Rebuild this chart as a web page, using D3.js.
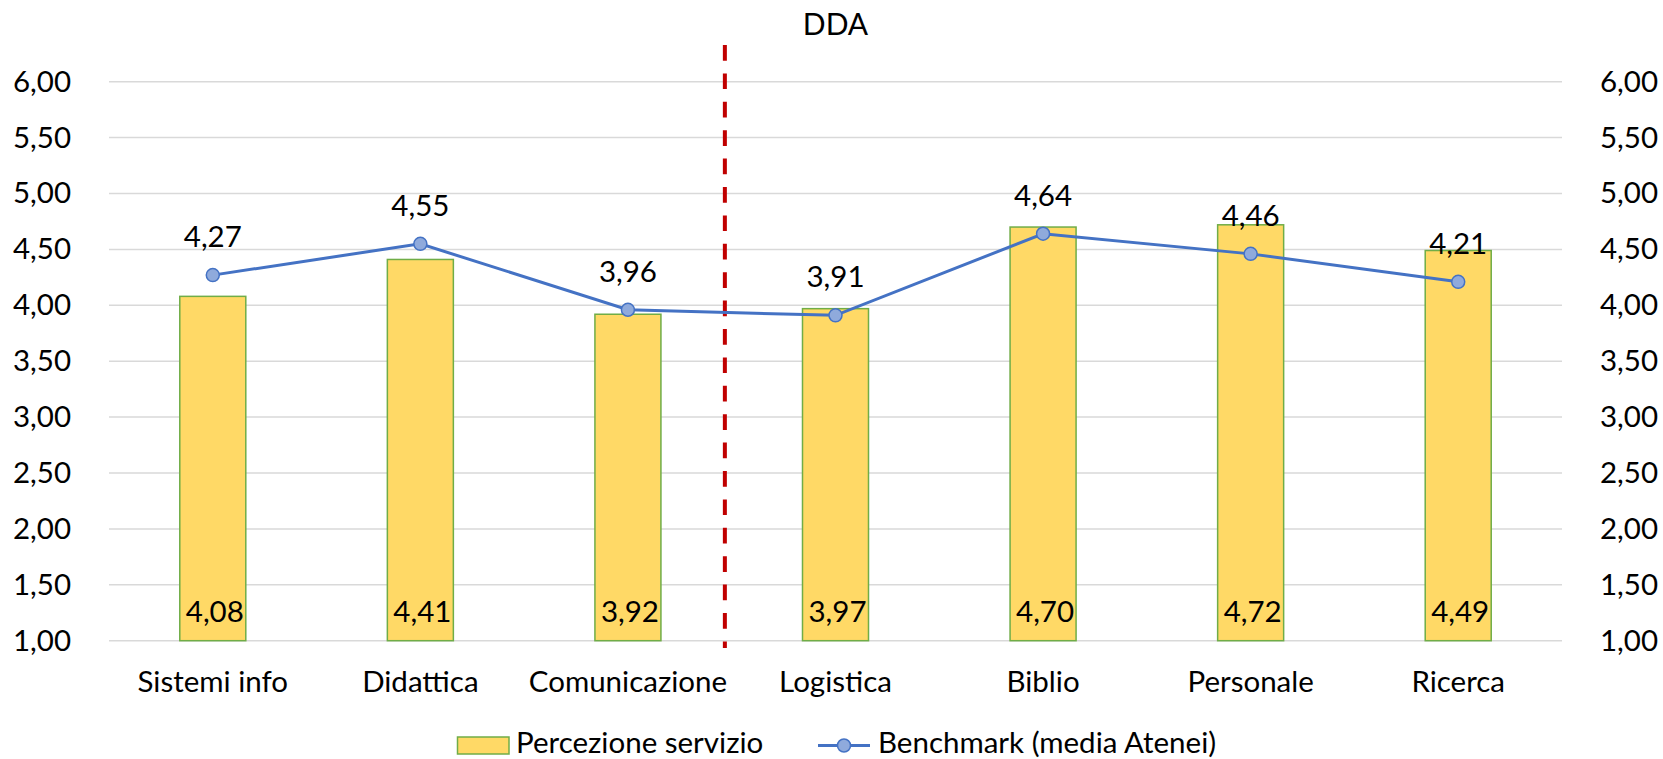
<!DOCTYPE html>
<html>
<head>
<meta charset="utf-8">
<script src="https://cdn.jsdelivr.net/npm/d3@7"></script>
<style>
  html, body { margin: 0; padding: 0; background: #ffffff; }
  svg { display: block; }
  text { font-family: Lato, "Open Sans", sans-serif; fill: #000000; }
</style>
</head>
<body>
<svg id="chart" width="1663" height="759"></svg>
<script>
const title = "DDA";
const categories = ["Sistemi info", "Didattica", "Comunicazione", "Logistica", "Biblio", "Personale", "Ricerca"];
const perceptionValues = [4.08, 4.41, 3.92, 3.97, 4.70, 4.72, 4.49];
const benchmarkValues = [4.27, 4.55, 3.96, 3.91, 4.64, 4.46, 4.21];
const yTicks = [1.00, 1.50, 2.00, 2.50, 3.00, 3.50, 4.00, 4.50, 5.00, 5.50, 6.00];
const seriesNames = ["Percezione servizio", "Benchmark (media Atenei)"];
const dividerPosition = 2.967; // in category units

const W = 1663, H = 759;
const plot = { left: 109, right: 1562, top: 81.7, bottom: 640.7 };
const fontSize = 29.5;

const svg = d3.select("#chart");
const fmt = v => d3.format(".2f")(v).replace(".", ",");

const x = d3.scaleBand().domain(categories).range([plot.left, plot.right]).paddingInner(0).paddingOuter(0);
const y = d3.scaleLinear().domain([1, 6]).range([plot.bottom, plot.top]);
const barW = x.bandwidth() * 0.318;

// gridlines
svg.append("g").selectAll("line").data(yTicks).join("line")
  .attr("x1", plot.left).attr("x2", plot.right)
  .attr("y1", d => y(d)).attr("y2", d => y(d))
  .attr("stroke", "#d9d9d9").attr("stroke-width", 1.5);

// left axis
const leftAxis = d3.axisLeft(y).tickValues(yTicks).tickFormat(fmt).tickSize(0).tickPadding(0);
const gl = svg.append("g").attr("transform", `translate(${plot.left - 38},0)`).call(leftAxis);
gl.select(".domain").remove();
gl.selectAll("text").attr("font-size", fontSize).attr("font-family", "Lato").attr("fill", "#000");

const rightAxis = d3.axisRight(y).tickValues(yTicks).tickFormat(fmt).tickSize(0).tickPadding(0);
const gr = svg.append("g").attr("transform", `translate(${plot.right + 38},0)`).call(rightAxis);
gr.select(".domain").remove();
gr.selectAll("text").attr("font-size", fontSize).attr("font-family", "Lato").attr("fill", "#000");

// bars
svg.append("g").selectAll("rect").data(categories).join("rect")
  .attr("x", (d) => x(d) + x.bandwidth() / 2 - barW / 2)
  .attr("width", barW)
  .attr("y", (d, i) => y(perceptionValues[i]))
  .attr("height", (d, i) => y(1) - y(perceptionValues[i]))
  .attr("fill", "#ffd966").attr("stroke", "#70ad47").attr("stroke-width", 1.5);

// bar labels
svg.append("g").selectAll("text").data(categories).join("text")
  .attr("x", d => x(d) + x.bandwidth() / 2 + 2)
  .attr("y", y(1) - 19)
  .attr("text-anchor", "middle")
  .attr("font-size", fontSize)
  .text((d, i) => fmt(perceptionValues[i]));

// divider
const dx = plot.left + x.step() * dividerPosition;
svg.append("line")
  .attr("x1", dx).attr("x2", dx).attr("y1", 45).attr("y2", 648)
  .attr("stroke", "#c00000").attr("stroke-width", 4).attr("stroke-dasharray", "15.7,12.7");

// benchmark line
const line = d3.line().x((d, i) => x(categories[i]) + x.bandwidth() / 2).y(d => y(d));
svg.append("path").datum(benchmarkValues)
  .attr("d", line).attr("fill", "none").attr("stroke", "#4472c4").attr("stroke-width", 3);

svg.append("g").selectAll("circle").data(benchmarkValues).join("circle")
  .attr("cx", (d, i) => x(categories[i]) + x.bandwidth() / 2)
  .attr("cy", d => y(d))
  .attr("r", 6.5)
  .attr("fill", "#8faadc").attr("stroke", "#4472c4").attr("stroke-width", 1.5);

svg.append("g").selectAll("text").data(benchmarkValues).join("text")
  .attr("x", (d, i) => x(categories[i]) + x.bandwidth() / 2)
  .attr("y", d => y(d) - 28)
  .attr("text-anchor", "middle")
  .attr("font-size", fontSize)
  .text(d => fmt(d));

// x labels
svg.append("g").selectAll("text").data(categories).join("text")
  .attr("x", d => x(d) + x.bandwidth() / 2)
  .attr("y", 691.7)
  .attr("text-anchor", "middle")
  .attr("font-size", fontSize)
  .text(d => d);

// title
svg.append("text")
  .attr("x", (plot.left + plot.right) / 2)
  .attr("y", 35)
  .attr("text-anchor", "middle")
  .attr("font-size", 30)
  .text(title);

// legend
const lg = svg.append("g");
lg.append("rect").attr("x", 457.5).attr("y", 737).attr("width", 51.5).attr("height", 17)
  .attr("fill", "#ffd966").attr("stroke", "#70ad47").attr("stroke-width", 1.5);
lg.append("text").attr("x", 516).attr("y", 753).attr("font-size", fontSize).text(seriesNames[0]);
lg.append("line").attr("x1", 818).attr("x2", 870).attr("y1", 745.5).attr("y2", 745.5)
  .attr("stroke", "#4472c4").attr("stroke-width", 3);
lg.append("circle").attr("cx", 844).attr("cy", 745.5).attr("r", 6.5)
  .attr("fill", "#8faadc").attr("stroke", "#4472c4").attr("stroke-width", 1.5);
lg.append("text").attr("x", 878).attr("y", 753).attr("font-size", fontSize).text(seriesNames[1]);
</script>
</body>
</html>
